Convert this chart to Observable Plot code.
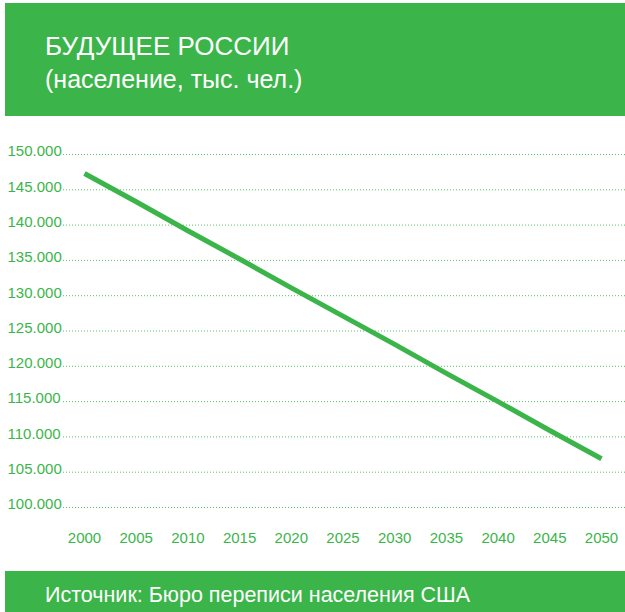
<!DOCTYPE html>
<html>
<head>
<meta charset="utf-8">
<script src="https://cdn.jsdelivr.net/npm/d3@7"></script>
<script src="https://cdn.jsdelivr.net/npm/@observablehq/plot@0.6"></script>
<style>
  html, body { margin: 0; padding: 0; background: #fff; }
  body { width: 625px; height: 612px; position: relative; overflow: hidden; font-family: "Liberation Sans", Arial, sans-serif; }
  .band { position: absolute; left: 5px; width: 620px; background: #3bb54a; color: #fff; }
  .band div { position: absolute; left: 40px; white-space: nowrap; }
  #chart { position: absolute; left: 0; top: 116px; }
</style>
</head>
<body>
<div class="band" style="top:3px;height:113px;">
  <div style="top:30px;font-size:26px;line-height:26px;">БУДУЩЕЕ РОССИИ</div>
  <div style="top:64px;font-size:25px;line-height:25px;">(население, тыс. чел.)</div>
</div>
<div id="chart"></div>
<div class="band" style="top:571px;height:41px;">
  <div style="top:14px;font-size:21.5px;line-height:21.5px;">Источник: Бюро переписи населения США</div>
</div>
<script>
const years = [2000, 2005, 2010, 2015, 2020, 2025, 2030, 2035, 2040, 2045, 2050];
const population = [147300, 143300, 139200, 135200, 131100, 127100, 123100, 119000, 115000, 110900, 106900];
const yTicks = [100000, 105000, 110000, 115000, 120000, 125000, 130000, 135000, 140000, 145000, 150000];
const xTicks = [2000, 2005, 2010, 2015, 2020, 2025, 2030, 2035, 2040, 2045, 2050];

const green = "#3bb54a";
const data = years.map((y, i) => ({year: y, value: population[i]}));
const fmt = d3.formatLocale({decimal: ",", thousands: ".", grouping: [3], currency: ["", ""]}).format(",d");

const chart = Plot.plot({
  width: 625,
  height: 455,
  marginLeft: 63,
  marginRight: 0,
  marginTop: 38,
  marginBottom: 64,
  style: {fontFamily: "Liberation Sans, Arial, sans-serif", fontSize: "15px", color: green, background: "transparent"},
  x: {domain: [2000, 2050], range: [84, 601]},
  y: {domain: [100000, 150000]},
  marks: [
    Plot.gridY(yTicks, {stroke: green, strokeOpacity: 0.85, strokeDasharray: "1,2", strokeWidth: 1}),
    Plot.axisY(yTicks, {tickSize: 0, tickPadding: 0, textAnchor: "start", dx: -56, dy: -3, tickFormat: fmt, fill: green, label: null}),
    Plot.axisX(xTicks, {tickSize: 0, tickPadding: 25, tickFormat: d => String(d), fill: green, label: null}),
    Plot.line(data, {x: "year", y: "value", stroke: green, strokeWidth: 5, strokeLinecap: "butt"})
  ]
});
document.getElementById("chart").appendChild(chart);
</script>
</body>
</html>
